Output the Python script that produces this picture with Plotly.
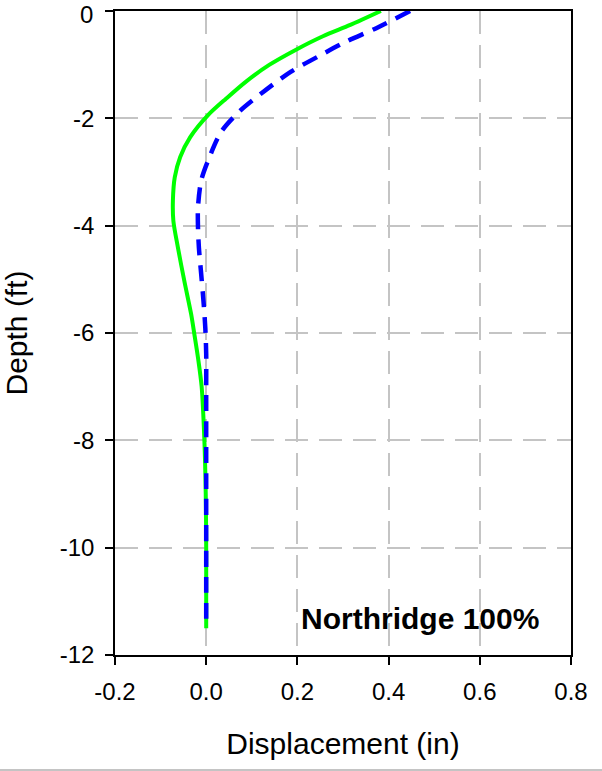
import plotly.graph_objects as go

FONT = "Liberation Sans, Arial, sans-serif"

# Green solid series (displacement in, depth ft)
green_depth = [0, -0.26, -0.47, -0.72, -1.0, -1.31, -1.63, -1.94, -2.35, -2.72, -3.1, -3.53, -3.91, -4.41, -5.03, -5.65, -6.02, -6.46, -7.0, -8.0, -9.0, -10.0, -11.5]
green_disp = [0.383, 0.316, 0.256, 0.197, 0.139, 0.088, 0.044, 0.004, -0.035, -0.057, -0.069, -0.073, -0.072, -0.062, -0.048, -0.033, -0.026, -0.018, -0.010, -0.004, -0.001, 0.0, 0.0]

# Blue dashed series
blue_depth = [0, -0.32, -0.57, -0.85, -1.13, -1.47, -1.87, -2.25, -2.79, -3.16, -3.66, -4.03, -4.41, -4.9, -5.4, -5.9, -6.39, -7.0, -8.0, -9.0, -10.0, -11.5]
blue_disp = [0.447, 0.373, 0.307, 0.245, 0.186, 0.131, 0.073, 0.033, 0.004, -0.011, -0.018, -0.018, -0.016, -0.011, -0.006, -0.002, 0.0, 0.0, 0.0, 0.0, 0.0, 0.0]

x_ticks = [-0.2, 0.0, 0.2, 0.4, 0.6, 0.8]
x_labels = ["-0.2", "0.0", "0.2", "0.4", "0.6", "0.8"]
y_ticks = [0, -2, -4, -6, -8, -10, -12]
y_labels = ["0", "-2", "-4", "-6", "-8", "-10", "-12"]

# the top tick label sits at the very edge of the page; draw it as a text
# just inside the page so it is not clipped
top_label = y_labels[0]
y_ticktext = [""] + y_labels[1:]

fig = go.Figure()
fig.add_trace(go.Scatter(x=green_disp, y=green_depth, mode="lines",
                         line=dict(color="#00ff00", width=4, shape="spline", smoothing=0.8),
                         showlegend=False))
fig.add_trace(go.Scatter(x=blue_disp, y=blue_depth, mode="lines",
                         line=dict(color="#0000ff", width=4.5, shape="spline", smoothing=0.8,
                                   dash="16px,10px"),
                         showlegend=False))

fig.add_annotation(x=0.934, y=0.056, xref="paper", yref="paper",
                   text="<b>Northridge 100%</b>", showarrow=False,
                   xanchor="right", yanchor="middle",
                   font=dict(size=30, color="black", family=FONT))

fig.add_annotation(x=-0.046, y=1.0165, xref="paper", yref="paper",
                   text=top_label, showarrow=False,
                   xanchor="right", yanchor="top", borderpad=0,
                   font=dict(size=24, color="black", family=FONT))

fig.add_shape(type="line", xref="paper", yref="paper",
              x0=-0.26, x1=1.08, y0=-0.1786, y1=-0.1786,
              line=dict(color="#b0b0b0", width=1.5))

axis_common = dict(
    showline=True, linecolor="black", linewidth=1.5, mirror=True,
    ticks="outside", ticklen=8, tickwidth=1.5, tickcolor="black",
    showgrid=True, gridcolor="#c4c4c4", gridwidth=1.5, griddash="23px,11px",
    zeroline=False, automargin=False, ticklabeloverflow="allow",
    tickfont=dict(size=24, color="black", family=FONT),
)

fig.update_xaxes(range=[-0.2, 0.8], tickvals=x_ticks, ticktext=x_labels,
                 ticklabelstandoff=6,
                 title=dict(text="Displacement (in)", standoff=29,
                            font=dict(size=30, color="black", family=FONT)),
                 **axis_common)
fig.update_yaxes(range=[-12, 0], tickvals=y_ticks, ticktext=y_ticktext,
                 ticklabelstandoff=6,
                 title=dict(text="Depth (ft)", standoff=27,
                            font=dict(size=30, color="black", family=FONT)),
                 **axis_common)

fig.update_layout(
    width=602, height=771,
    margin=dict(l=115, r=31, t=11, b=116),
    paper_bgcolor="white", plot_bgcolor="white",
    font=dict(family=FONT, color="black"),
)

# remove the browser's default 8px body margin so the figure fills the window exactly
fig.write_html("out.html", config={"displayModeBar": False},
               post_script="document.body.style.margin='0';document.body.style.overflow='hidden';")
